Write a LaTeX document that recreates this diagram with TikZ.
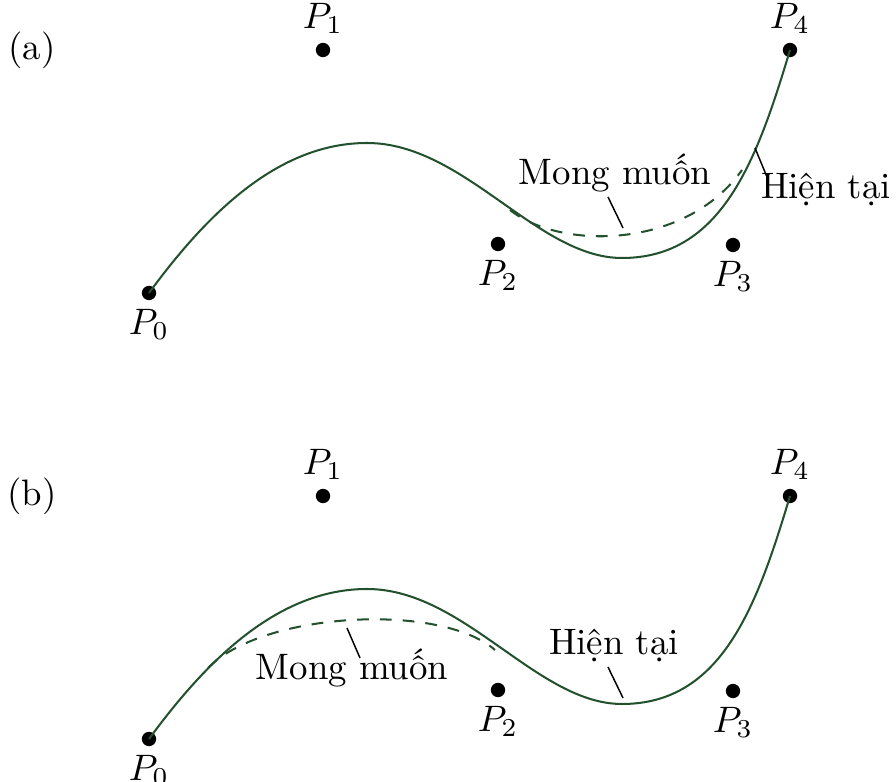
\documentclass[tikz,border=0pt]{standalone}
\definecolor{curvegreen}{RGB}{35,80,45}
\begin{document}
\begin{tikzpicture}[x=0.2716pt,y=-0.2716pt,
 dot/.style={circle,fill,inner sep=0pt,minimum size=3.9pt},
 every label/.style={inner sep=2pt},
 curve/.style={curvegreen,line width=0.55pt},
 wish/.style={curvegreen,line width=0.55pt,dash pattern=on 3.2pt off 3pt},
 leader/.style={line width=0.4pt}]
 \useasboundingbox (0,0) rectangle (896,782);
 % (a) moving P3
 \node (la) at (32,50) {(a)};
 \node[dot,label=below:$P_0$] (a0) at (149,293) {};
 \node[dot,label=above:$P_1$] (a1) at (323,50) {};
 \node[dot,label=below:$P_2$] (a2) at (498,244) {};
 \node[dot,label=below:$P_3$] (a3) at (733,245) {};
 \node[dot,label=above:$P_4$] (a4) at (790,50) {};
 \draw[curve] (a0.center) .. controls (209,211) and (280,143) .. (367,143)
   .. controls (464,143) and (537,258) .. (622,258)
   .. controls (722,258) and (757,160) .. (a4.center);
 \draw[wish] (510,210) .. controls (560,250) and (685,250) .. (742,170);
 \node[anchor=base] (ma) at (615,185) {Mong muốn};
 \node[anchor=base] (ha) at (826,199) {Hiện tại};
 \coordinate (ma1) at (608,197);
 \coordinate (ma2) at (623,228);
 \coordinate (ha1) at (767,177);
 \coordinate (ha2) at (755,148);
 \draw[leader] (ma1) -- (ma2);
 \draw[leader] (ha1) -- (ha2);
 % (b) moving P1
 \begin{scope}[shift={(0,446)}]
 \node (lb) at (32,50) {(b)};
 \node[dot,label=below:$P_0$] (b0) at (149,293) {};
 \node[dot,label=above:$P_1$] (b1) at (323,50) {};
 \node[dot,label=below:$P_2$] (b2) at (498,244) {};
 \node[dot,label=below:$P_3$] (b3) at (733,245) {};
 \node[dot,label=above:$P_4$] (b4) at (790,50) {};
 \draw[curve] (b0.center) .. controls (209,211) and (280,143) .. (367,143)
   .. controls (464,143) and (537,258) .. (622,258)
   .. controls (722,258) and (757,160) .. (b4.center);
 \draw[wish] (208,222) .. controls (262,166) and (440,156) .. (495,204);
 \node[anchor=base] (mb) at (352,234) {Mong muốn};
 \node[anchor=base] (hb) at (614,209) {Hiện tại};
 \coordinate (mb1) at (360,212);
 \coordinate (mb2) at (347,182);
 \coordinate (hb1) at (608,221);
 \coordinate (hb2) at (623,252);
 \draw[leader] (mb1) -- (mb2);
 \draw[leader] (hb1) -- (hb2);
 \end{scope}
\end{tikzpicture}
\end{document}
